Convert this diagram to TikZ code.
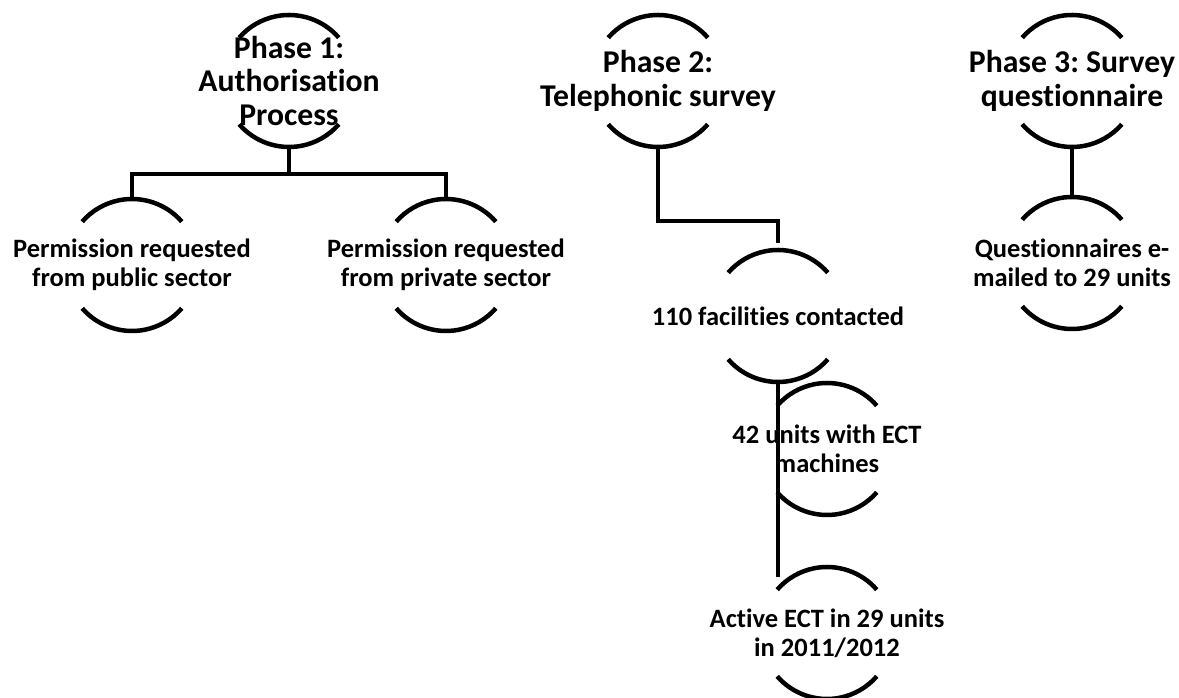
\documentclass[tikz,border=0pt]{standalone}
\usepackage{fontspec}
\setmainfont{Carlito}[Ligatures=NoCommon]
\frenchspacing

\begin{document}
\begin{tikzpicture}[
    x=1pt, y=1pt,
    line width=4.5pt,
    phase/.style={align=center, inner sep=0pt, minimum height=132pt,
      font=\fontsize{31.7}{33.5}\selectfont\bfseries},
    task/.style={align=center, inner sep=0pt, minimum height=132pt,
      font=\fontsize{26.5}{29}\selectfont\bfseries}
]
\useasboundingbox (0,0) rectangle (1179,698);

% Nodes placed manually
\node[phase] (P1) at (289,617) {Phase 1:\\Authorisation\\Process};
\node[task] (Pub) at (132,433) {Permission requested\\from public sector};
\node[task] (Priv) at (446,433) {Permission requested\\from private sector};
\node[phase] (P2) at (658,617) {Phase 2:\\Telephonic survey};
\node[task] (Fac) at (778,382) {110 facilities contacted};
\node[task] (Ect) at (827,249) {42 units with ECT\\machines};
\node[task] (Act) at (827,65) {Active ECT in 29 units\\in 2011/2012};
\node[phase] (P3) at (1072,617) {Phase 3: Survey\\questionnaire};
\node[task] (Mail) at (1072,435) {Questionnaires e-\\mailed to 29 units};

% Arcs above and below each node
\foreach \n in {P1,Pub,Priv,P2,Fac,Ect,Act,P3,Mail} {
  \draw ([shift={(41:66pt)}]\n.center) arc[start angle=41, end angle=139, radius=66pt];
  \draw ([shift={(221:66pt)}]\n.center) arc[start angle=221, end angle=319, radius=66pt];
}

% Connectors
\draw (P1.south) -- ++(0,-25) -| (Pub.north);
\draw (P1.south) -- ++(0,-25) -| (Priv.north);
\draw (P2.south) -- ++(0,-72) -| ([yshift=5pt]Fac.north);
\draw (Fac.south) -- ([yshift=-12pt]Fac.south |- Act.north);
\draw (P3.south) -- (Mail.north);
\end{tikzpicture}
\end{document}
